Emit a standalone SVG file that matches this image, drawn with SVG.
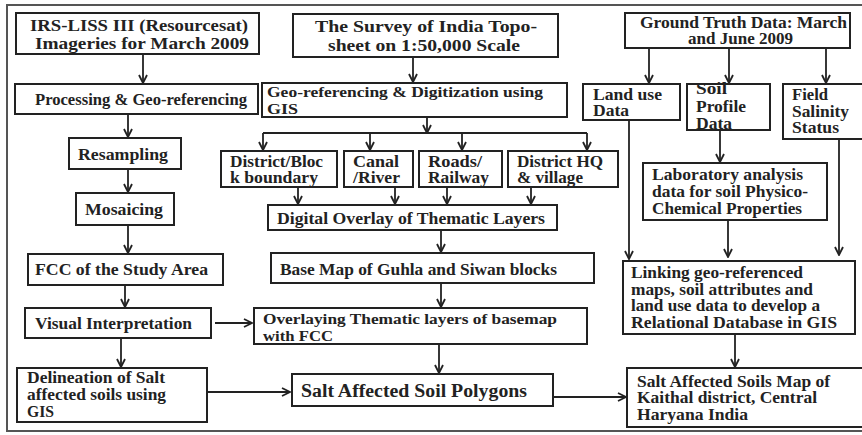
<svg xmlns="http://www.w3.org/2000/svg" width="862" height="435" viewBox="0 0 862 435">
<defs>
<style>
.box{fill:#fff;stroke:#222;stroke-width:2}
.t{font-family:"Liberation Serif","Times New Roman",serif;font-weight:bold;font-size:16px;fill:#222}
.s{font-size:14.5px}
.c{stroke:#222;stroke-width:1.8;fill:none}
.a{marker-end:url(#arr)}
</style>
<marker id="arr" viewBox="0 0 10 10" refX="9" refY="5" markerWidth="10" markerHeight="10" markerUnits="userSpaceOnUse" orient="auto">
<path d="M1,1 L9,5 L1,9" fill="none" stroke="#222" stroke-width="1.8"/>
</marker>
</defs>
<rect x="0" y="0" width="862" height="435" fill="#fff"/>
<rect x="7" y="5" width="870" height="426" fill="none" stroke="#555" stroke-width="2"/>

<g id="connectors">
<path class="c a" d="M143,54 V83"/>
<path class="c a" d="M128,114 V137"/>
<path class="c a" d="M128,169 V192"/>
<path class="c a" d="M128,225 V253"/>
<path class="c a" d="M125,285 V307"/>
<path class="c a" d="M121,338 V367"/>
<path class="c a" d="M215,323 H252"/>
<path class="c a" d="M208,392 H290"/>
<path class="c a" d="M413,57 V82"/>
<path class="c a" d="M427,117 V133"/>
<path class="c" d="M263,133 H587"/>
<path class="c a" d="M263,133 V150"/>
<path class="c a" d="M370,133 V150"/>
<path class="c a" d="M462,133 V150"/>
<path class="c a" d="M587,133 V150"/>
<path class="c a" d="M298,187 V204"/>
<path class="c a" d="M395,187 V204"/>
<path class="c a" d="M447,187 V204"/>
<path class="c a" d="M531,187 V204"/>
<path class="c a" d="M441,230 V252"/>
<path class="c a" d="M441,283 V307"/>
<path class="c a" d="M439,344 V373"/>
<path class="c a" d="M553,397 H626"/>
<path class="c a" d="M649,48 V83"/>
<path class="c a" d="M729,48 V83"/>
<path class="c a" d="M826,48 V83"/>
<path class="c a" d="M629,120 V259"/>
<path class="c a" d="M720,130 V162"/>
<path class="c a" d="M839,139 V255"/>
<path class="c a" d="M728,220 V257"/>
<path class="c a" d="M735,334 V367"/>
</g>

<g id="irs"><rect class="box" x="16" y="13" width="243" height="41"/>
<text class="t" x="30" y="31" textLength="218" lengthAdjust="spacingAndGlyphs">IRS-LISS III (Resourcesat)</text>
<text class="t" x="35" y="49" textLength="214" lengthAdjust="spacingAndGlyphs">Imageries for March 2009</text></g>

<g id="processing"><rect class="box" x="15" y="84" width="243" height="30"/>
<text class="t" x="35" y="105" textLength="212" lengthAdjust="spacingAndGlyphs">Processing &amp; Geo-referencing</text></g>

<g id="survey"><rect class="box" x="293" y="14" width="265" height="43"/>
<text class="t" x="315" y="32" textLength="222" lengthAdjust="spacingAndGlyphs">The Survey of India Topo-</text>
<text class="t" x="328" y="51" textLength="192" lengthAdjust="spacingAndGlyphs">sheet on 1:50,000 Scale</text></g>

<g id="geodig"><rect class="box" x="262" y="83" width="305" height="34"/>
<text class="t s" x="267" y="97" textLength="276" lengthAdjust="spacingAndGlyphs">Geo-referencing &amp; Digitization using</text>
<text class="t s" x="267" y="114" textLength="31" lengthAdjust="spacingAndGlyphs">GIS</text></g>

<g id="ground"><rect class="box" x="625" y="13" width="225" height="35"/>
<text class="t" x="640" y="28" textLength="207" lengthAdjust="spacingAndGlyphs">Ground Truth Data: March</text>
<text class="t" x="688" y="44" textLength="105" lengthAdjust="spacingAndGlyphs">and June 2009</text></g>

<g id="landuse"><rect class="box" x="583" y="84" width="97" height="36"/>
<text class="t" x="593" y="100" textLength="69" lengthAdjust="spacingAndGlyphs">Land use</text>
<text class="t" x="593" y="116" textLength="36" lengthAdjust="spacingAndGlyphs">Data</text></g>

<g id="soilprofile"><rect class="box" x="687" y="84" width="83" height="46"/>
<text class="t" x="696" y="94" textLength="31" lengthAdjust="spacingAndGlyphs">Soil</text>
<text class="t" x="696" y="112" textLength="50" lengthAdjust="spacingAndGlyphs">Profile</text>
<text class="t" x="696" y="129" textLength="36" lengthAdjust="spacingAndGlyphs">Data</text></g>

<g id="field"><rect class="box" x="783" y="84" width="90" height="55"/>
<text class="t" x="792" y="100" textLength="36" lengthAdjust="spacingAndGlyphs">Field</text>
<text class="t" x="792" y="117" textLength="57" lengthAdjust="spacingAndGlyphs">Salinity</text>
<text class="t" x="792" y="133" textLength="47" lengthAdjust="spacingAndGlyphs">Status</text></g>

<g id="district"><rect class="box" x="221" y="151" width="116" height="36"/>
<text class="t" x="230" y="167" textLength="93" lengthAdjust="spacingAndGlyphs">District/Bloc</text>
<text class="t" x="230" y="183" textLength="88" lengthAdjust="spacingAndGlyphs">k boundary</text></g>

<g id="canal"><rect class="box" x="344" y="151" width="69" height="36"/>
<text class="t" x="353" y="167" textLength="46" lengthAdjust="spacingAndGlyphs">Canal</text>
<text class="t" x="353" y="183" textLength="47" lengthAdjust="spacingAndGlyphs">/River</text></g>

<g id="roads"><rect class="box" x="419" y="151" width="83" height="36"/>
<text class="t" x="428" y="167" textLength="54" lengthAdjust="spacingAndGlyphs">Roads/</text>
<text class="t" x="428" y="183" textLength="61" lengthAdjust="spacingAndGlyphs">Railway</text></g>

<g id="districthq"><rect class="box" x="508" y="151" width="110" height="36"/>
<text class="t" x="517" y="167" textLength="86" lengthAdjust="spacingAndGlyphs">District HQ</text>
<text class="t" x="517" y="183" textLength="66" lengthAdjust="spacingAndGlyphs">&amp; village</text></g>

<g id="overlay"><rect class="box" x="268" y="205" width="289" height="25"/>
<text class="t" x="277" y="224" textLength="268" lengthAdjust="spacingAndGlyphs">Digital Overlay of Thematic Layers</text></g>

<g id="basemap"><rect class="box" x="271" y="253" width="323" height="30"/>
<text class="t" x="280" y="275" textLength="277" lengthAdjust="spacingAndGlyphs">Base Map of Guhla and Siwan blocks</text></g>

<g id="overlaying"><rect class="box" x="254" y="308" width="333" height="36"/>
<text class="t s" x="263" y="324" textLength="294" lengthAdjust="spacingAndGlyphs">Overlaying Thematic layers of basemap</text>
<text class="t s" x="263" y="341" textLength="70" lengthAdjust="spacingAndGlyphs">with FCC</text></g>

<g id="polygons"><rect class="box" x="292" y="374" width="261" height="32"/>
<text class="t" x="301" y="397" style="font-size:18px" textLength="226" lengthAdjust="spacingAndGlyphs">Salt Affected Soil Polygons</text></g>

<g id="lab"><rect class="box" x="643" y="163" width="184" height="57"/>
<text class="t" x="652" y="180" textLength="151" lengthAdjust="spacingAndGlyphs">Laboratory analysis</text>
<text class="t" x="652" y="197" textLength="156" lengthAdjust="spacingAndGlyphs">data for soil Physico-</text>
<text class="t" x="652" y="214" textLength="150" lengthAdjust="spacingAndGlyphs">Chemical Properties</text></g>

<g id="linking"><rect class="box" x="623" y="261" width="232" height="73"/>
<text class="t" x="631" y="278" textLength="172" lengthAdjust="spacingAndGlyphs">Linking geo-referenced</text>
<text class="t" x="631" y="295" textLength="182" lengthAdjust="spacingAndGlyphs">maps, soil attributes and</text>
<text class="t" x="631" y="311" textLength="189" lengthAdjust="spacingAndGlyphs">land use data to develop a</text>
<text class="t" x="631" y="328" textLength="206" lengthAdjust="spacingAndGlyphs">Relational Database in GIS</text></g>

<g id="saltmap"><rect class="box" x="627" y="368" width="245" height="59"/>
<text class="t" x="637" y="387" textLength="193" lengthAdjust="spacingAndGlyphs">Salt Affected Soils Map of</text>
<text class="t" x="637" y="403" textLength="180" lengthAdjust="spacingAndGlyphs">Kaithal district, Central</text>
<text class="t" x="637" y="420" textLength="111" lengthAdjust="spacingAndGlyphs">Haryana India</text></g>

<g id="resampling"><rect class="box" x="69" y="138" width="112" height="31"/>
<text class="t" x="78" y="160" textLength="90" lengthAdjust="spacingAndGlyphs">Resampling</text></g>

<g id="mosaicing"><rect class="box" x="76" y="193" width="98" height="32"/>
<text class="t" x="85" y="215" textLength="78" lengthAdjust="spacingAndGlyphs">Mosaicing</text></g>

<g id="fcc"><rect class="box" x="28" y="254" width="195" height="31"/>
<text class="t" x="35" y="275" textLength="173" lengthAdjust="spacingAndGlyphs">FCC of the Study Area</text></g>

<g id="visual"><rect class="box" x="25" y="308" width="186" height="30"/>
<text class="t" x="35" y="329" textLength="157" lengthAdjust="spacingAndGlyphs">Visual Interpretation</text></g>

<g id="delineation"><rect class="box" x="17" y="368" width="190" height="54"/>
<text class="t" x="27" y="383" textLength="138" lengthAdjust="spacingAndGlyphs">Delineation of Salt</text>
<text class="t" x="27" y="400" textLength="139" lengthAdjust="spacingAndGlyphs">affected soils using</text>
<text class="t" x="27" y="417" textLength="27" lengthAdjust="spacingAndGlyphs">GIS</text></g>
</svg>
